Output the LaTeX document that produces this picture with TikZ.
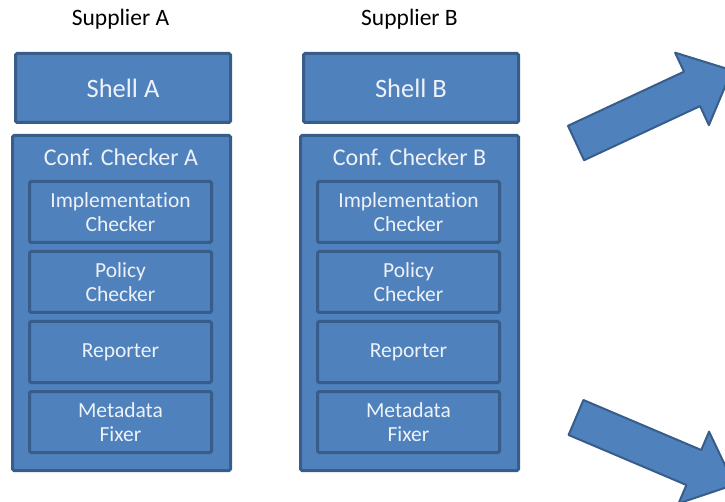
\documentclass[tikz,border=0pt]{standalone}
\usepackage{fontspec}
\setmainfont{Carlito}[Ligatures=NoCommon]
\usepackage{tikz}
\usepackage{xcolor}
\usetikzlibrary{positioning}
\definecolor{boxfill}{HTML}{4F81BD}
\definecolor{boxline}{HTML}{385D8A}
\definecolor{boxtext}{HTML}{EEF2F8}

\begin{document}
\begin{tikzpicture}[x=1pt,y=-1pt,
    bluebox/.style={rectangle,draw=boxline,fill=boxfill,line width=3pt,rounded corners=1.5pt,
                    text=boxtext,align=center,inner sep=0pt},
    shell box/.style={bluebox,minimum width=215pt,minimum height=69pt,font=\fontsize{26.5}{28}\selectfont},
    conf box/.style={bluebox,minimum width=218pt,minimum height=335pt},
    part box/.style={bluebox,minimum width=182pt,minimum height=61pt,font=\fontsize{21.5}{24}\selectfont},
    conf title/.style={text=boxtext,font=\fontsize{24}{26}\selectfont},
    supplier/.style={text=black,font=\fontsize{23.5}{24}\selectfont},
    fat arrow/.style={draw=boxline,fill=boxfill,line width=2pt,line join=round}]

  \useasboundingbox (0,0) rectangle (725,502);

  % supplier A
  \node[supplier] (supA) at (120.5,19) {Supplier A};
  \node[shell box] (shellA) at (123,88) {Shell A};
  \node[conf box] (confA) at (121.5,303) {};
  \node[conf title] (confAtitle) at (121,157) {Conf. Checker A};
  \node[part box] (implA) at (120.5,212) {Implementation\\Checker};
  \node[part box] (polA) [below=6pt of implA] {Policy\\Checker};
  \node[part box] (repA) [below=6pt of polA] {Reporter};
  \node[part box] (metaA) [below=6pt of repA] {Metadata\\Fixer};

  % supplier B
  \node[supplier] (supB) at (409.5,19) {Supplier B};
  \node[shell box] (shellB) at (411,88) {Shell B};
  \node[conf box] (confB) at (409.5,303) {};
  \node[conf title] (confBtitle) at (409.5,157) {Conf. Checker B};
  \node[part box] (implB) at (408.5,212) {Implementation\\Checker};
  \node[part box] (polB) [below=6pt of implB] {Policy\\Checker};
  \node[part box] (repB) [below=6pt of polB] {Reporter};
  \node[part box] (metaB) [below=6pt of repB] {Metadata\\Fixer};

  % block arrows at the right edge
  \begin{scope}[shift={(576,143)},rotate=25]
    \draw[fat arrow] (0,-19) -- (128,-19) -- (128,-40) -- (172,0)
                     -- (128,40) -- (128,19) -- (0,19) -- cycle;
  \end{scope}
  \begin{scope}[shift={(576,417.5)},rotate=-23]
    \draw[fat arrow] (0,-19) -- (128,-19) -- (128,-39) -- (172,0)
                     -- (128,39) -- (128,19) -- (0,19) -- cycle;
  \end{scope}
\end{tikzpicture}
\end{document}
